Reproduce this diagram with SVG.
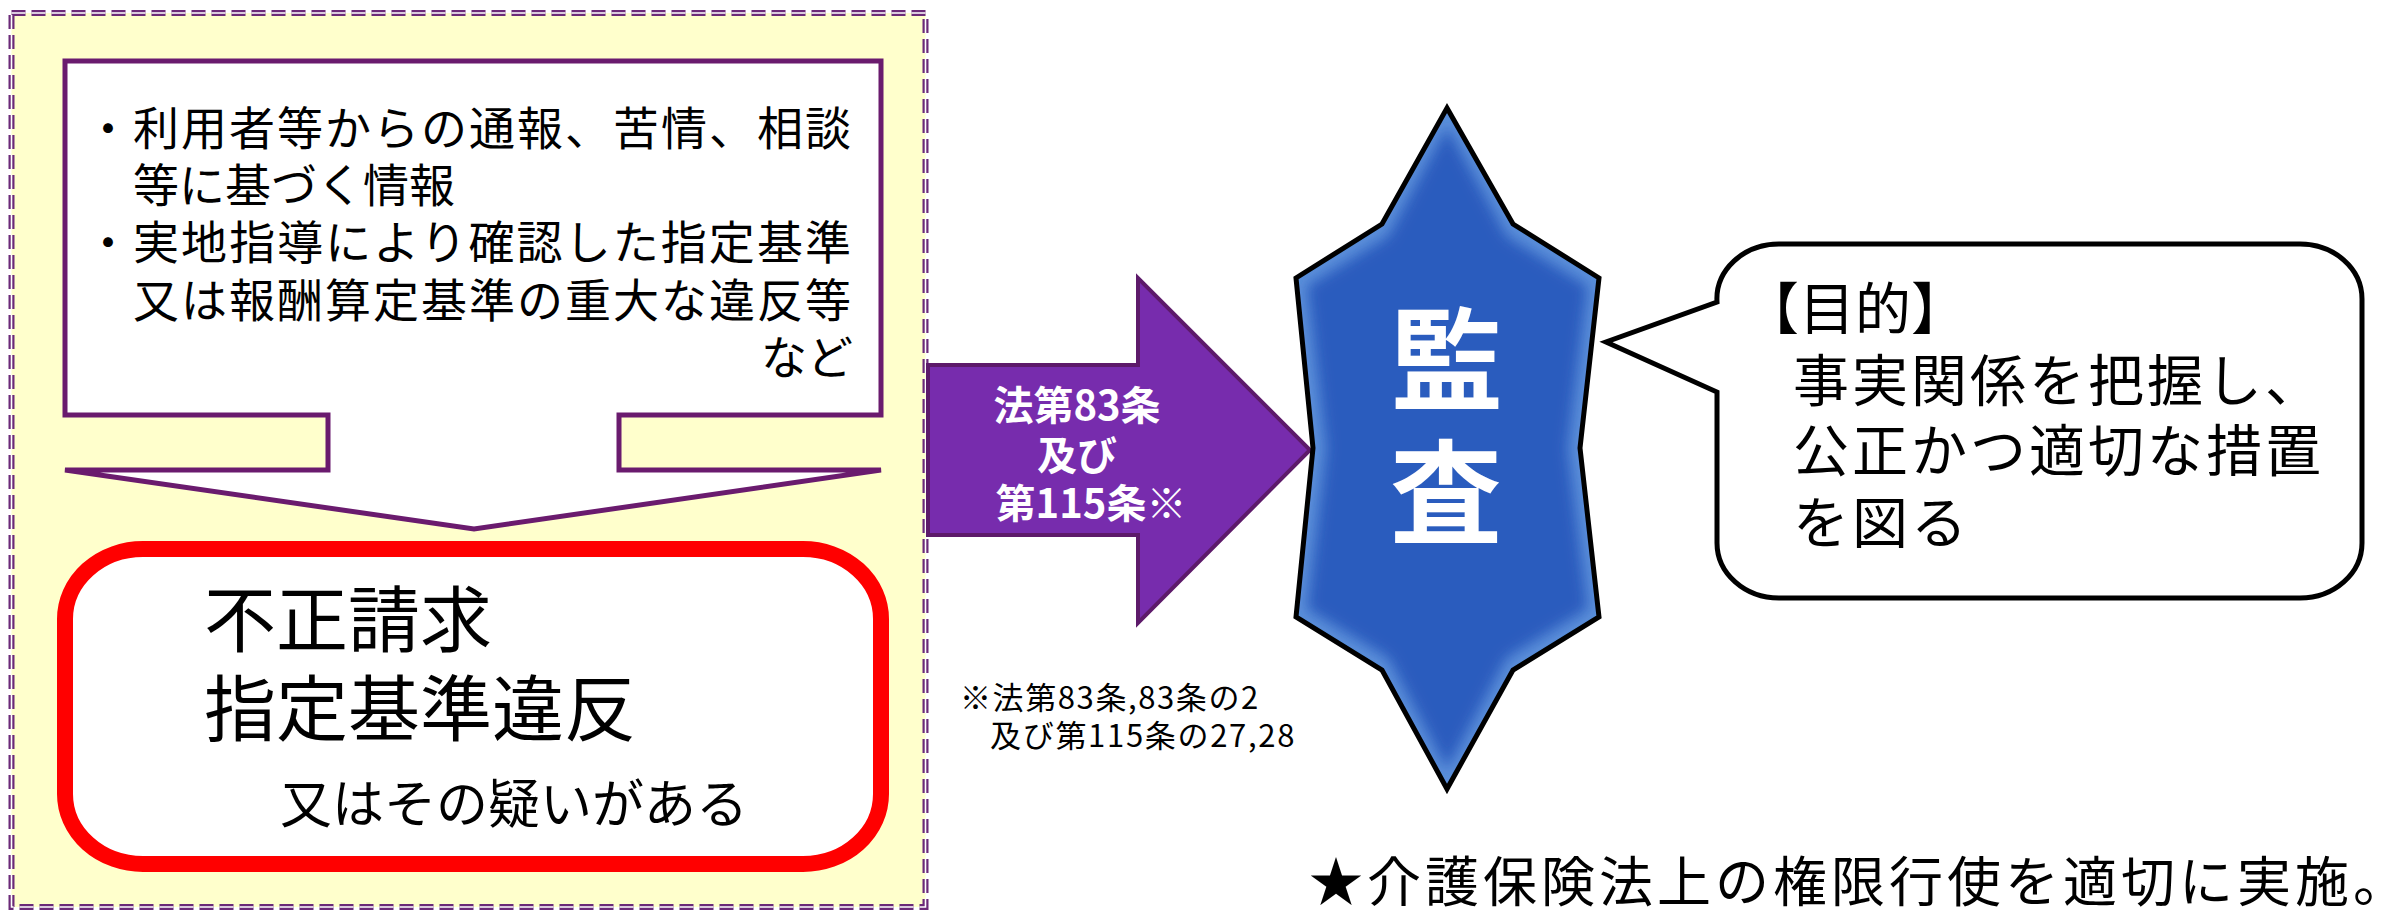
<svg xmlns="http://www.w3.org/2000/svg" width="2384" height="910" viewBox="0 0 2384 910">
<style>
.jp{font-family:"Noto Sans CJK JP","Noto Sans CJK SC",sans-serif;fill:#000}
.wb{font-family:"Noto Sans CJK JP","Noto Sans CJK SC",sans-serif;fill:#fff;font-weight:bold}
</style>
<defs>
<filter id="soft" x="-10%" y="-10%" width="120%" height="120%"><feGaussianBlur stdDeviation="7"/></filter>
<clipPath id="starClip"><polygon points="1447,108 1513,224 1599,278 1580,448 1599,617 1513,670 1447,789 1382,670 1296,617 1313,448 1296,278 1382,224"/></clipPath>
</defs>
<rect width="2384" height="910" fill="#fff"/>
<g id="frame">
<rect x="11.5" y="13" width="914" height="894" fill="#FFFFCC" stroke="#6B2A78" stroke-width="6" stroke-dasharray="14 6"/>
<rect x="11.5" y="13" width="914" height="894" fill="none" stroke="#ffffff" stroke-width="1.6" stroke-dasharray="14 6"/>
</g>
<g id="source-callout">
<path d="M65,61 H881 V415 H619 V470 H881 L474,529 L65,470 H328 V415 H65 Z" fill="#fff" stroke="#6A1B6E" stroke-width="5" stroke-linejoin="miter"/>
<text class="jp" font-size="46" x="108" y="145" text-anchor="middle">・</text>
<text class="jp" font-size="46" x="133" y="145" textLength="718">利用者等からの通報、苦情、相談</text>
<text class="jp" font-size="46" x="133" y="202">等に基づく情報</text>
<text class="jp" font-size="46" x="108" y="259" text-anchor="middle">・</text>
<text class="jp" font-size="46" x="133" y="259" textLength="718">実地指導により確認した指定基準</text>
<text class="jp" font-size="46" x="133" y="317" textLength="718">又は報酬算定基準の重大な違反等</text>
<text class="jp" font-size="46" x="853" y="374" text-anchor="end">など</text>
</g>
<g id="fraud-box">
<rect x="65" y="549" width="816" height="315" rx="78" ry="70" fill="#fff" stroke="#FF0000" stroke-width="16"/>
<text class="jp" font-size="72" x="204" y="646">不正請求</text>
<text class="jp" font-size="72" x="204" y="735">指定基準違反</text>
<text class="jp" font-size="52" x="280" y="823">又はその疑いがある</text>
</g>
<g id="connectors">
<polygon id="law-arrow" points="928,365 1138,365 1138,278 1310,450 1138,623 1138,535 928,535" fill="#772CAD" stroke="#5D1A6A" stroke-width="4"/>
<text class="wb" font-size="40" x="1077" y="420" text-anchor="middle">法第83条</text>
<text class="wb" font-size="40" x="1077" y="470" text-anchor="middle">及び</text>
<text class="wb" font-size="40" x="1091" y="518" text-anchor="middle">第115条※</text>
</g>
<g id="footnote">
<text class="jp" font-size="31" x="960" y="709" letter-spacing="1.6">※法第83条,83条の2</text>
<text class="jp" font-size="31" x="990" y="747" letter-spacing="1.7">及び第115条の27,28</text>
</g>
<g id="audit-star">
<polygon points="1447,108 1513,224 1599,278 1580,448 1599,617 1513,670 1447,789 1382,670 1296,617 1313,448 1296,278 1382,224" fill="#5B8FDA"/>
<g clip-path="url(#starClip)">
<polygon points="1447,126 1507,236 1588,286 1568,448 1588,609 1507,658 1447,770 1388,658 1307,609 1326,448 1307,286 1388,236" fill="#2B5BBE" filter="url(#soft)"/>
</g>
<polygon points="1447,108 1513,224 1599,278 1580,448 1599,617 1513,670 1447,789 1382,670 1296,617 1313,448 1296,278 1382,224" fill="none" stroke="#000" stroke-width="5" stroke-linejoin="miter"/>
<text class="wb" font-size="112" x="1447" y="402" text-anchor="middle">監</text>
<text class="wb" font-size="112" x="1446" y="535" text-anchor="middle">査</text>
</g>
<g id="purpose-bubble">
<path d="M1717,302 A62,55 0 0 1 1779,244 H2300 A62,55 0 0 1 2362,299 V543 A62,55 0 0 1 2300,598 H1779 A62,55 0 0 1 1717,543 V392 L1606,342 Z" fill="#fff" stroke="#000" stroke-width="5" stroke-linejoin="miter"/>
<text class="jp" font-size="56" x="1743" y="329">【目的】</text>
<text class="jp" font-size="56" x="1793" y="401" letter-spacing="3">事実関係を把握し、</text>
<text class="jp" font-size="56" x="1793" y="471" letter-spacing="3">公正かつ適切な措置</text>
<text class="jp" font-size="56" x="1793" y="543" letter-spacing="3">を図る</text>
</g>
<g id="note">
<text class="jp" font-size="54" x="1309" y="902" letter-spacing="4">★介護保険法上の権限行使を適切に実施。</text>
</g>
</svg>
